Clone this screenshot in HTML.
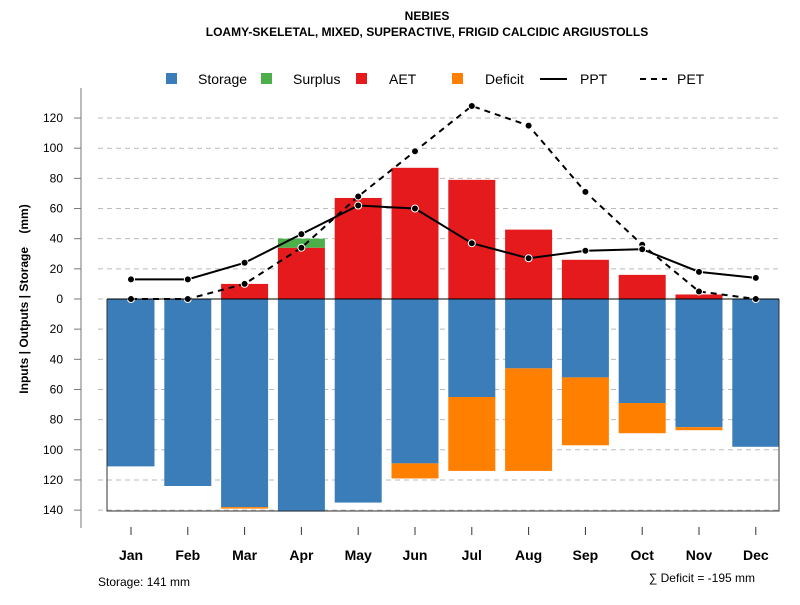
<!DOCTYPE html>
<html><head><meta charset="utf-8"><style>
body{margin:0;background:#fff;}
svg{font-family:"Liberation Sans",sans-serif;}
</style></head><body>
<svg id="c" width="800" height="600">
<text x="427" y="20" text-anchor="middle" font-weight="bold" font-size="12">NEBIES</text>
<text x="427" y="36" text-anchor="middle" font-weight="bold" font-size="12">LOAMY-SKELETAL, MIXED, SUPERACTIVE, FRIGID CALCIDIC ARGIUSTOLLS</text>
<g id="grid"></g><g id="bars"></g><g id="lines"></g><g id="axes"></g>
<g font-size="14">
<rect x="166" y="73" width="11" height="11" fill="#3a7db8"/><text x="198" y="84">Storage</text>
<rect x="261" y="73" width="11" height="11" fill="#4daf4a"/><text x="293" y="84">Surplus</text>
<rect x="356" y="73" width="11" height="11" fill="#e41a1c"/><text x="389" y="84">AET</text>
<rect x="452" y="73" width="11" height="11" fill="#ff7f00"/><text x="485" y="84">Deficit</text>
<line x1="540" y1="79" x2="567" y2="79" stroke="#000" stroke-width="2"/><text x="580" y="84">PPT</text>
<line x1="640" y1="79" x2="667" y2="79" stroke="#000" stroke-width="2" stroke-dasharray="6,5"/><text x="677" y="84">PET</text>
</g>
<text xml:space="preserve" transform="translate(28,299) rotate(-90)" text-anchor="middle" font-weight="bold" font-size="12">Inputs | Outputs | Storage    (mm)</text>
<text x="98" y="586" font-size="12">Storage: 141 mm</text>
<text x="755" y="582" text-anchor="end" font-size="12">∑ Deficit = -195 mm</text>
</svg>
<script>
const months=["Jan","Feb","Mar","Apr","May","Jun","Jul","Aug","Sep","Oct","Nov","Dec"];
const storage=[111,124,138,141,135,109,65,46,52,69,85,98];
const deficit=[0,0,1,0,0,10,49,68,45,20,2,0];
const aet=[0,0,10,34,67,87,79,46,26,16,3,0];
const surplus=[0,0,0,6,0,0,0,0,0,0,0,0];
const ppt=[13,13,24,43,62,60,37,27,32,33,18,14];
const pet=[0,0,10,34,68,98,128,115,71,36,5,0];
const yTicks=[120,100,80,60,40,20,0,20,40,60,80,100,120,140];
const yTickVals=[120,100,80,60,40,20,0,-20,-40,-60,-80,-100,-120,-140];
const NS="http://www.w3.org/2000/svg";
const y=v=>299-v*1.508;
const x=i=>131+i*56.8;
const bw=47;
function mk(tag,attrs,parent,text){const e=document.createElementNS(NS,tag);for(const k in attrs)e.setAttribute(k,attrs[k]);if(text!==undefined)e.textContent=text;document.getElementById(parent).appendChild(e);return e;}
yTickVals.forEach((v,i)=>{
 const g=mk('line',{x1:98,x2:779,y1:y(v),y2:y(v),stroke:'#bbb','stroke-dasharray':'5,4'},'grid');
 
 
 const t=mk('line',{x1:74,x2:81,y1:y(v),y2:y(v),stroke:'#777'},'axes');
 
 
 const l=mk('text',{x:63,y:y(v)+4,'text-anchor':'end','font-size':12},'axes',yTicks[i]);
 
 
});
months.forEach((m,i)=>{
 const cx=x(i);
 const s=mk('rect',{x:cx-bw/2,y:y(0),width:bw,height:y(-storage[i])-y(0),fill:'#3a7db8'},'bars');
 
 
 if(deficit[i]>0){const d=mk('rect',{x:cx-bw/2,y:y(-storage[i]),width:bw,height:y(-storage[i]-deficit[i])-y(-storage[i]),fill:'#ff7f00'},'bars');
 
 }
 if(aet[i]>0){const a=mk('rect',{x:cx-bw/2,y:y(aet[i]),width:bw,height:y(0)-y(aet[i]),fill:'#e41a1c'},'bars');
 
 }
 if(surplus[i]>0){const su=mk('rect',{x:cx-bw/2,y:y(aet[i]+surplus[i]),width:bw,height:y(aet[i])-y(aet[i]+surplus[i]),fill:'#4daf4a'},'bars');
 
 }
 const t=mk('line',{x1:cx,x2:cx,y1:527,y2:535,stroke:'#333'},'axes');
 
 
 const l=mk('text',{x:cx,y:560,'text-anchor':'middle','font-size':14,'font-weight':'bold'},'axes',m);
 
 
});
const box=mk('path',{d:'M107,299 V511 H779 V299',fill:'none',stroke:'#333'},'axes');


const zl=mk('line',{x1:107,x2:779,y1:299,y2:299,stroke:'#000'},'axes');


const ya=mk('line',{x1:81,x2:81,y1:88,y2:528,stroke:'#777'},'axes');


function series(arr,dash,name){
 const p=mk('polyline',{points:arr.map((v,i)=>x(i)+','+y(v)).join(' '),fill:'none',stroke:'#000','stroke-width':2,'stroke-dasharray':dash},'lines');
 
 
 arr.forEach((v,i)=>{const c=mk('circle',{cx:x(i),cy:y(v),r:3.5,fill:'#000',stroke:'#fff','stroke-width':1},'lines');
 
 });
}
series(pet,'6,5','pet');
series(ppt,'none','ppt');
</script>
</body></html>
